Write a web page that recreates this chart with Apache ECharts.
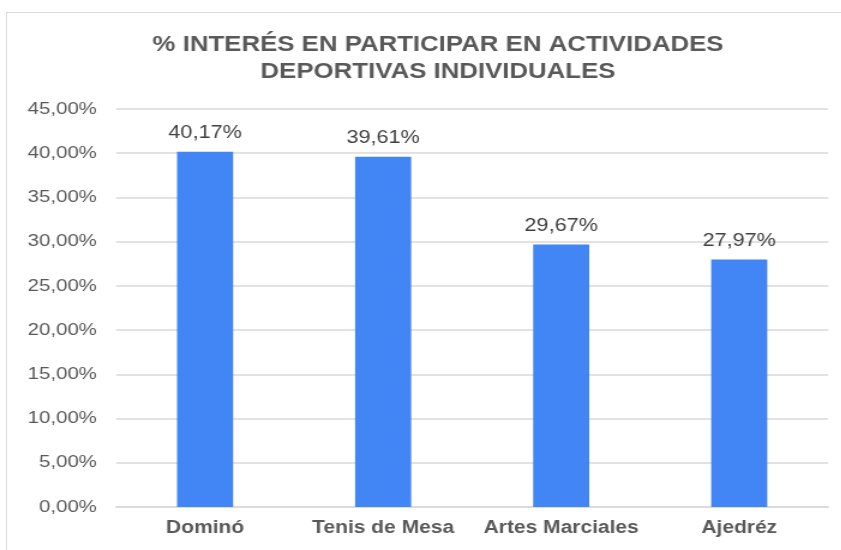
<!DOCTYPE html>
<html><head><meta charset="utf-8">
<script src="https://cdn.jsdelivr.net/npm/echarts@6/dist/echarts.min.js"></script>
<style>html,body{margin:0;padding:0;background:#fff;overflow:hidden}
#wrap{width:841px;height:550px;position:relative;overflow:hidden}
#c{width:701px;height:550px;transform:scaleX(1.2);transform-origin:0 0;position:absolute;left:0;top:0}
#frame{position:absolute;left:6px;top:12px;width:840px;height:560px;border:1.5px solid #d9d9d9;box-sizing:border-box;pointer-events:none}</style>
</head><body><div id="wrap"><div id="c"></div><div id="frame"></div></div>
<script>
const categories = ['Dominó', 'Tenis de Mesa', 'Artes Marciales', 'Ajedréz'];
const values = [40.17, 39.61, 29.67, 27.97];
const titleText = '% INTERÉS EN PARTICIPAR EN ACTIVIDADES\nDEPORTIVAS INDIVIDUALES';
const fmt = v => v.toFixed(2).replace('.', ',') + '%';
const FONT = 'Liberation Sans, Arial, sans-serif';
const chart = echarts.init(document.getElementById('c'));
chart.setOption({
  animation: false,
  textStyle: { fontFamily: FONT },
  title: {
    text: titleText, left: 360, textAlign: 'center', top: 27,
    textStyle: { fontSize: 21.5, fontWeight: 'bold', color: '#595959', lineHeight: 27, fontFamily: FONT }
  },
  grid: { left: 96.7, right: 10.8, top: 109, bottom: 43, containLabel: false },
  xAxis: {
    type: 'category', data: categories,
    axisLine: { show: true, lineStyle: { color: '#d9d9d9', width: 1.5 } },
    axisTick: { show: false },
    axisLabel: { interval: 0, hideOverlap: false, color: '#595959', fontSize: 17.5, fontWeight: 'bold', margin: 12 }
  },
  yAxis: {
    type: 'value', min: 0, max: 45, interval: 5,
    axisLine: { show: false }, axisTick: { show: false },
    splitLine: { lineStyle: { color: '#d9d9d9', width: 1.5 } },
    axisLabel: { color: '#595959', fontSize: 17, margin: 16, formatter: v => fmt(v) }
  },
  series: [{
    type: 'bar', data: values, barWidth: '31.5%',
    itemStyle: { color: '#4285F4' },
    label: { show: true, position: 'top', distance: 10, color: '#404040', fontSize: 18, formatter: p => fmt(p.value) }
  }]
});
</script></body></html>
